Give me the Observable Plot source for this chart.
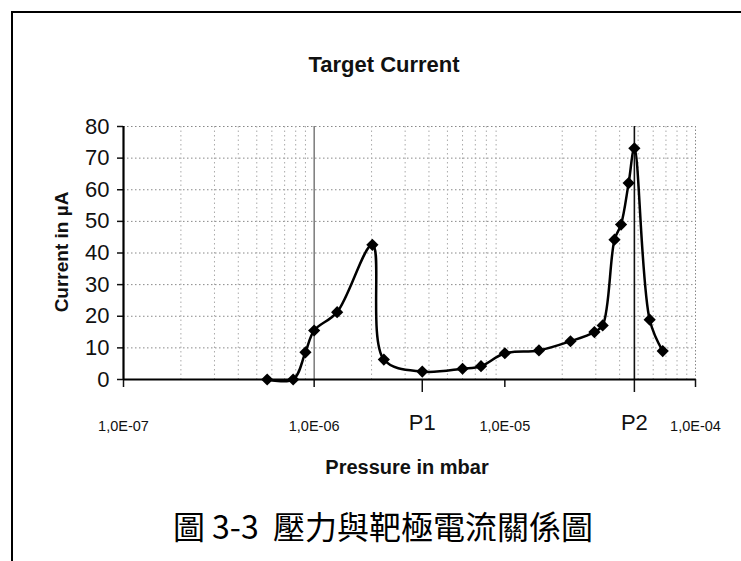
<!DOCTYPE html>
<html>
<head>
<meta charset="utf-8">
<script src="https://cdn.jsdelivr.net/npm/d3@7"></script>
<script src="https://cdn.jsdelivr.net/npm/@observablehq/plot@0.6"></script>
<style>
  html, body { margin: 0; padding: 0; background: #fff; }
  #wrap { position: relative; width: 741px; height: 561px; overflow: hidden; background: #fff; font-family: "Liberation Sans", Arial, sans-serif; }
  #frame { position: absolute; left: 11px; top: 11px; width: 800px; height: 600px; border-top: 2px solid #000; border-left: 2px solid #000; }
  .lbl { position: absolute; transform: translate(-50%, -50%); white-space: nowrap; color: #111; }
  #plot { position: absolute; left: 0; top: 0; }
</style>
</head>
<body>
<div id="wrap">
  <div id="frame"></div>
  <div id="plot"></div>
  <div class="lbl" style="left:384px; top:65px; font-weight:bold; font-size:22px;">Target Current</div>
  <div class="lbl" style="left:407px; top:467px; font-weight:bold; font-size:20px;">Pressure in mbar</div>
  <div class="lbl" style="left:62px; top:252px; font-weight:bold; font-size:19px; transform: translate(-50%, -50%) rotate(-90deg);">Current in µA</div>
  <div class="lbl" style="left:383px; top:525px; font-size:32px; font-family:'Noto Sans CJK TC', 'Noto Sans CJK SC', sans-serif; color:#000;">圖 3-3&nbsp; 壓力與靶極電流關係圖</div>
</div>
<script>
// Data
const pressure = [5.67e-7, 7.76e-7, 9.0e-7, 1.0e-6, 1.32e-6, 2.02e-6, 2.32e-6, 3.69e-6, 6.0e-6, 7.5e-6, 1.0e-5, 1.51e-5, 2.21e-5, 2.95e-5, 3.26e-5, 3.76e-5, 4.07e-5, 4.46e-5, 4.78e-5, 5.75e-5, 6.73e-5];
const current  = [0, 0, 8.6, 15.5, 21.3, 42.6, 6.3, 2.5, 3.4, 4.2, 8.3, 9.2, 12.1, 15.0, 17.1, 44.2, 49.0, 62.1, 73.1, 18.9, 9.0];

const xTickValues = [1e-7, 1e-6, 1e-5, 1e-4];
const xTickLabels = ["1,0E-07", "1,0E-06", "1,0E-05", "1,0E-04"];
const yTicks = [0, 10, 20, 30, 40, 50, 60, 70, 80];
const markerLabels = ["P1", "P2"];
const markerPressure = [3.69e-6, 4.78e-5];
const minorMultipliers = [2, 3, 4, 5, 6, 7, 8, 9];

const data = pressure.map((p, i) => ({ p, c: current[i] }));
const markers = markerPressure.map((p, i) => ({ p, label: markerLabels[i] }));
const minorGrid = [];
for (let k = 0; k < xTickValues.length - 1; k++) {
  for (const m of minorMultipliers) minorGrid.push(m * xTickValues[k]);
}

const chart = Plot.plot({
  width: 741,
  height: 561,
  marginLeft: 123,
  marginRight: 46,
  marginTop: 126,
  marginBottom: 182,
  style: { fontFamily: "'Liberation Sans', Arial, sans-serif", background: "transparent", overflow: "visible", color: "#111" },
  x: { type: "log", domain: [1e-7, 1e-4] },
  y: { domain: [0, 80] },
  marks: [
    Plot.gridY(yTicks.filter(v => v > 0), { stroke: "#888", strokeOpacity: 1, strokeDasharray: "1.5,2.5" }),
    Plot.gridX(minorGrid, { stroke: "#aaa", strokeOpacity: 1, strokeDasharray: "1.5,3" }),
    Plot.ruleX([xTickValues[3]], { stroke: "#888", strokeDasharray: "1.5,2" }),
    Plot.ruleX([xTickValues[1]], { stroke: "#666", strokeWidth: 1.3 }),
    Plot.ruleX([markerPressure[1]], { stroke: "#111", strokeWidth: 1.6 }),
    Plot.axisY({ ticks: yTicks, tickSize: 6, tickPadding: 8, fontSize: 22, label: null, strokeWidth: 1.5 }),
    Plot.axisX({ ticks: xTickValues, tickFormat: d => xTickLabels[xTickValues.indexOf(d)], tickSize: 8, tickPadding: 33, fontSize: 14.5, label: null, strokeWidth: 1.5 }),
    Plot.ruleX(markers, { x: "p", y1: 0, y2: 0, insetBottom: -13, stroke: "#111", strokeWidth: 1.5 }),
    Plot.text(markers, { x: "p", text: "label", frameAnchor: "bottom", dy: 50, fontSize: 22, fill: "#111" }),
    Plot.ruleX([xTickValues[0]], { stroke: "#000", strokeWidth: 2.2 }),
    Plot.ruleY([0], { stroke: "#000", strokeWidth: 2.2 }),
    Plot.line(data, { x: "p", y: "c", curve: "catmull-rom", stroke: "#000", strokeWidth: 2.5 }),
    Plot.dot(data, { x: "p", y: "c", symbol: "diamond2", r: 5.5, fill: "#000", stroke: "none" })
  ]
});
document.getElementById("plot").appendChild(chart);
</script>
</body>
</html>
